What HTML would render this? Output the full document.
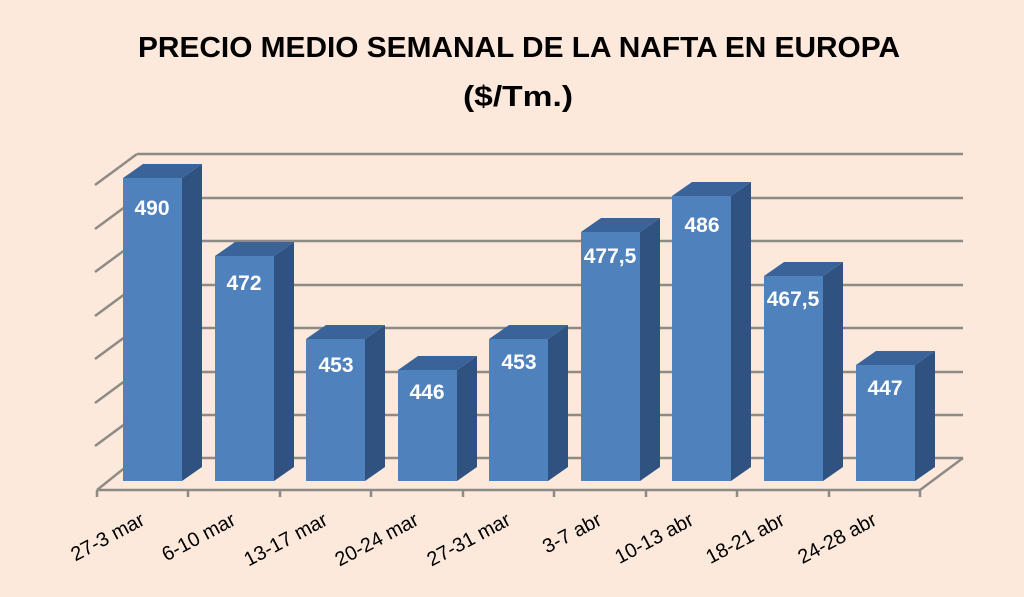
<!DOCTYPE html>
<html><head><meta charset="utf-8"><style>
html,body{margin:0;padding:0;background:#fce9dc;}
svg{display:block;font-family:"Liberation Sans","DejaVu Sans",sans-serif;}
</style></head><body>
<svg width="1024" height="597" viewBox="0 0 1024 597" xmlns="http://www.w3.org/2000/svg">
<rect width="1024" height="597" fill="#fce9dc"/>
<text x="519" y="57" text-anchor="middle" font-size="29" font-weight="bold" fill="#000" textLength="762" lengthAdjust="spacingAndGlyphs">PRECIO MEDIO SEMANAL DE LA NAFTA EN EUROPA</text>
<text x="518" y="106" text-anchor="middle" font-size="29" font-weight="bold" fill="#000" textLength="110" lengthAdjust="spacingAndGlyphs">($/Tm.)</text>
<g stroke="#8e8a86" stroke-width="2.5" fill="none">
<line x1="137" y1="154" x2="963" y2="154"/>
<line x1="137" y1="198" x2="963" y2="198"/>
<line x1="137" y1="241" x2="963" y2="241"/>
<line x1="137" y1="285" x2="963" y2="285"/>
<line x1="137" y1="328" x2="963" y2="328"/>
<line x1="137" y1="372" x2="963" y2="372"/>
<line x1="137" y1="415" x2="963" y2="415"/>
<line x1="137" y1="458" x2="963" y2="458"/>
<line x1="95" y1="185" x2="137" y2="154"/>
<line x1="95" y1="229" x2="137" y2="198"/>
<line x1="95" y1="272" x2="137" y2="241"/>
<line x1="95" y1="316" x2="137" y2="285"/>
<line x1="95" y1="359" x2="137" y2="328"/>
<line x1="95" y1="403" x2="137" y2="372"/>
<line x1="95" y1="446" x2="137" y2="415"/>
<line x1="97" y1="490" x2="137" y2="458"/>
<line x1="920" y1="490" x2="963" y2="458"/>
<line x1="97" y1="490" x2="920" y2="490"/>
<path d="M97 490v7M188 490v7M280 490v7M371 490v7M463 490v7M554 490v7M646 490v7M737 490v7M829 490v7M920 490v7"/>
</g>
<g font-size="20" fill="#000" text-anchor="end">
<text transform="translate(146,524) rotate(-28)">27-3 mar</text>
<text transform="translate(237,524) rotate(-28)">6-10 mar</text>
<text transform="translate(329,524) rotate(-28)">13-17 mar</text>
<text transform="translate(420,524) rotate(-28)">20-24 mar</text>
<text transform="translate(512,524) rotate(-28)">27-31 mar</text>
<text transform="translate(603,524) rotate(-28)">3-7 abr</text>
<text transform="translate(695,524) rotate(-28)">10-13 abr</text>
<text transform="translate(786,524) rotate(-28)">18-21 abr</text>
<text transform="translate(878,524) rotate(-28)">24-28 abr</text>
</g>
<g font-size="21" font-weight="bold" fill="#fff" text-anchor="middle">
<g><polygon points="182,178 202,164 202,467 182,481" fill="#2f5281"/><polygon points="123,178 143,164 202,164 182,178" fill="#3a6399"/><rect x="123" y="178" width="59" height="303" fill="#4f81bd"/><text x="152" y="215">490</text></g>
<g><polygon points="274,256 294,242 294,467 274,481" fill="#2f5281"/><polygon points="215,256 235,242 294,242 274,256" fill="#3a6399"/><rect x="215" y="256" width="59" height="225" fill="#4f81bd"/><text x="244" y="290">472</text></g>
<g><polygon points="365,339 385,325 385,467 365,481" fill="#2f5281"/><polygon points="306,339 326,325 385,325 365,339" fill="#3a6399"/><rect x="306" y="339" width="59" height="142" fill="#4f81bd"/><text x="336" y="372">453</text></g>
<g><polygon points="457,370 477,356 477,467 457,481" fill="#2f5281"/><polygon points="398,370 418,356 477,356 457,370" fill="#3a6399"/><rect x="398" y="370" width="59" height="111" fill="#4f81bd"/><text x="427" y="399">446</text></g>
<g><polygon points="548,339 568,325 568,467 548,481" fill="#2f5281"/><polygon points="489,339 509,325 568,325 548,339" fill="#3a6399"/><rect x="489" y="339" width="59" height="142" fill="#4f81bd"/><text x="519" y="369">453</text></g>
<g><polygon points="640,232 660,218 660,467 640,481" fill="#2f5281"/><polygon points="581,232 601,218 660,218 640,232" fill="#3a6399"/><rect x="581" y="232" width="59" height="249" fill="#4f81bd"/><text x="610" y="263">477,5</text></g>
<g><polygon points="731,196 751,182 751,467 731,481" fill="#2f5281"/><polygon points="672,196 692,182 751,182 731,196" fill="#3a6399"/><rect x="672" y="196" width="59" height="285" fill="#4f81bd"/><text x="702" y="232">486</text></g>
<g><polygon points="823,276 843,262 843,467 823,481" fill="#2f5281"/><polygon points="764,276 784,262 843,262 823,276" fill="#3a6399"/><rect x="764" y="276" width="59" height="205" fill="#4f81bd"/><text x="793" y="306">467,5</text></g>
<g><polygon points="915,365 935,351 935,467 915,481" fill="#2f5281"/><polygon points="856,365 876,351 935,351 915,365" fill="#3a6399"/><rect x="856" y="365" width="59" height="116" fill="#4f81bd"/><text x="885" y="395">447</text></g>
</g>
</svg>
</body></html>
